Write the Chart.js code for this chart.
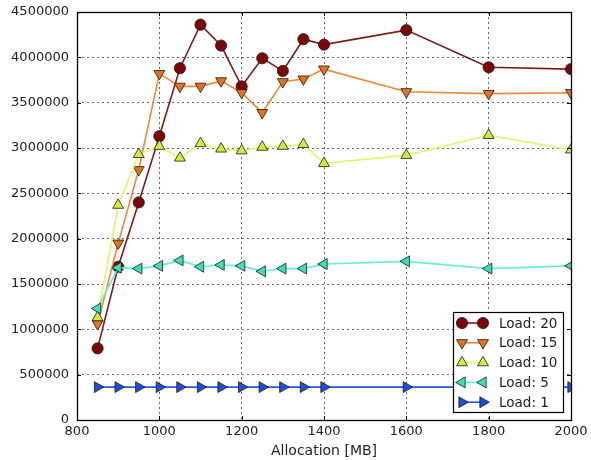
<!DOCTYPE html>
<html><head><meta charset="utf-8">
<script src="https://cdn.jsdelivr.net/npm/chart.js@4/dist/chart.umd.min.js"></script>
<style>html,body{margin:0;padding:0;background:#fff}</style>
</head><body>
<canvas id="c" width="591" height="460" style="width:591px;height:460px;display:block"></canvas>
<script>
const allocations = [850, 900, 950, 1000, 1050, 1100, 1150, 1200, 1250, 1300, 1350, 1400, 1600, 1800, 2000];
const load20 = [790000, 1690000, 2400000, 3130000, 3880000, 4360000, 4130000, 3680000, 3990000, 3850000, 4200000, 4140000, 4300000, 3890000, 3870000];
const load15 = [1060000, 1950000, 2760000, 3820000, 3680000, 3680000, 3740000, 3610000, 3390000, 3730000, 3760000, 3870000, 3620000, 3600000, 3610000];
const load10 = [1130000, 2370000, 2930000, 3020000, 2890000, 3050000, 2990000, 2970000, 3010000, 3020000, 3040000, 2830000, 2920000, 3140000, 2980000];
const load5  = [1230000, 1680000, 1670000, 1700000, 1760000, 1690000, 1710000, 1700000, 1640000, 1670000, 1670000, 1720000, 1750000, 1670000, 1700000];
const load1  = [363000, 363000, 363000, 363000, 363000, 363000, 363000, 363000, 363000, 363000, 363000, 363000, 363000, 363000, 363000];
const seriesLabels = ['Load: 20', 'Load: 15', 'Load: 10', 'Load: 5', 'Load: 1'];
const xTicks = [800, 1000, 1200, 1400, 1600, 1800, 2000];
const yTicks = [0, 500000, 1000000, 1500000, 2000000, 2500000, 3000000, 3500000, 4000000, 4500000];

const seriesValues = [load20, load15, load10, load5, load1];
const styles = [
  {line: '#7c1c1c', fill: '#7a0808', shape: 'circle', rot: 0, r: 5.6},
  {line: '#f0873a', fill: '#e5731e', shape: 'triangle', rot: 180, r: 6.3},
  {line: '#e2f46c', fill: '#cdee3e', shape: 'triangle', rot: 0, r: 6.3},
  {line: '#6aefd2', fill: '#3ddfae', shape: 'triangle', rot: -90, r: 6.3},
  {line: '#2a58e0', fill: '#1f4fd6', shape: 'triangle', rot: 90, r: 6.3}
];
const FONT = {family: 'DejaVu Sans', size: 13};
const TITLE_FONT = {family: 'DejaVu Sans', size: 14};
const TXT = '#222';

const datasets = seriesValues.map((vals, i) => ({
  label: seriesLabels[i],
  data: allocations.map((a, j) => ({x: a, y: vals[j]})),
  borderColor: styles[i].line,
  backgroundColor: styles[i].fill,
  borderWidth: 1.6,
  pointStyle: styles[i].shape,
  pointRotation: styles[i].rot,
  pointRadius: styles[i].r,
  pointBackgroundColor: styles[i].fill,
  pointBorderColor: '#1a1a1a',
  pointBorderWidth: 0.8,
  tension: 0,
  fill: false,
  clip: 0,
  order: seriesValues.length - i
}));

const framePlugin = {
  id: 'frame',
  afterDatasetsDraw(chart) {
    const {ctx, chartArea: ca, scales} = chart;
    ctx.save();
    ctx.strokeStyle = '#000';
    ctx.lineWidth = 1;
    ctx.beginPath();
    xTicks.forEach(v => {
      const x = Math.round(scales.x.getPixelForValue(v)) + 0.5;
      ctx.moveTo(x, ca.bottom); ctx.lineTo(x, ca.bottom - 4);
      ctx.moveTo(x, ca.top); ctx.lineTo(x, ca.top + 4);
    });
    yTicks.forEach(v => {
      const y = Math.round(scales.y.getPixelForValue(v)) + 0.5;
      ctx.moveTo(ca.left, y); ctx.lineTo(ca.left + 4, y);
      ctx.moveTo(ca.right, y); ctx.lineTo(ca.right - 4, y);
    });
    ctx.stroke();
    ctx.lineWidth = 1.3;
    ctx.strokeRect(Math.round(ca.left) + 0.5, Math.round(ca.top) + 0.5, Math.round(ca.right - ca.left), Math.round(ca.bottom - ca.top));
    ctx.restore();
  }
};

const legendPlugin = {
  id: 'mplLegend',
  afterDraw(chart) {
    const {ctx, chartArea: ca} = chart;
    const w = 110, h = 100;
    const x0 = Math.round(ca.right - 8 - w), y0 = Math.round(ca.bottom - 8 - h);
    ctx.save();
    ctx.fillStyle = '#fff';
    ctx.fillRect(x0, y0, w, h);
    ctx.strokeStyle = '#000';
    ctx.lineWidth = 1.2;
    ctx.strokeRect(x0 + 0.5, y0 + 0.5, w, h);
    chart.data.datasets.forEach((ds, i) => {
      const y = y0 + 11 + i * 19.8;
      const xa = x0 + 9, xb = x0 + 30;
      ctx.strokeStyle = ds.borderColor;
      ctx.lineWidth = ds.borderWidth;
      ctx.beginPath(); ctx.moveTo(xa, y); ctx.lineTo(xb, y); ctx.stroke();
      [xa, xb].forEach(px => {
        ctx.fillStyle = ds.pointBackgroundColor;
        ctx.strokeStyle = ds.pointBorderColor;
        ctx.lineWidth = ds.pointBorderWidth;
        Chart.helpers.drawPoint(ctx, {pointStyle: ds.pointStyle, rotation: ds.pointRotation, radius: ds.pointRadius, borderWidth: ds.pointBorderWidth}, px, y);
      });
      ctx.fillStyle = TXT;
      ctx.font = '13.5px "DejaVu Sans"';
      ctx.textBaseline = 'middle';
      ctx.textAlign = 'left';
      ctx.fillText(ds.label, x0 + 46, y + 1);
    });
    ctx.restore();
  }
};

new Chart(document.getElementById('c'), {
  type: 'line',
  data: {datasets},
  options: {
    responsive: false,
    animation: false,
    devicePixelRatio: 1,
    layout: {padding: {left: 0, top: 12, right: 20, bottom: 0}},
    plugins: {legend: {display: false}, tooltip: {enabled: false}},
    scales: {
      x: {
        type: 'linear', min: 800, max: 2000,
        afterBuildTicks: s => { s.ticks = xTicks.map(v => ({value: v})); },
        afterFit: s => { s.height = 40; s.paddingLeft = 0; s.paddingRight = 0; },
        ticks: {padding: 4, font: FONT, color: TXT, maxRotation: 0, autoSkip: false, callback: v => String(v)},
        grid: {color: 'rgba(0,0,0,0.6)', lineWidth: 1, drawTicks: false},
        border: {display: false, dash: [2, 3]},
        title: {display: true, text: 'Allocation [MB]', font: TITLE_FONT, color: TXT, padding: 0}
      },
      y: {
        type: 'linear', min: 0, max: 4500000,
        afterBuildTicks: s => { s.ticks = yTicks.map(v => ({value: v})); },
        afterFit: s => { s.width = 77; s.paddingTop = 0; s.paddingBottom = 0; },
        ticks: {padding: 8, font: FONT, color: TXT, autoSkip: false, callback: v => String(v)},
        grid: {color: 'rgba(0,0,0,0.6)', lineWidth: 1, drawTicks: false},
        border: {display: false, dash: [2, 3]}
      }
    }
  },
  plugins: [framePlugin, legendPlugin]
});
</script>
</body></html>
